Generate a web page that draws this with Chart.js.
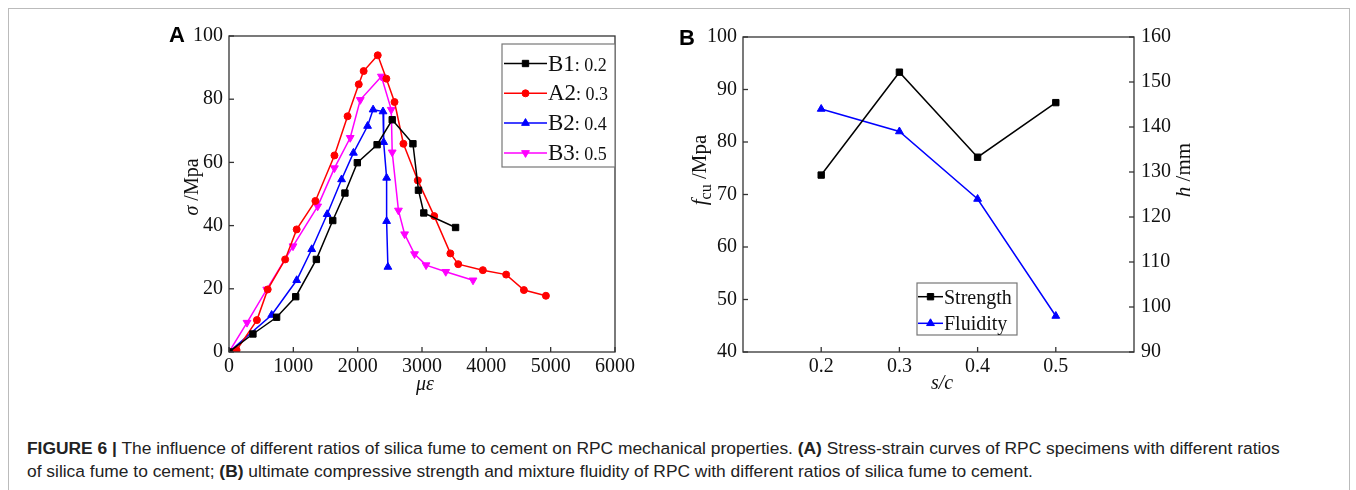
<!DOCTYPE html>
<html>
<head>
<meta charset="utf-8">
<script src="https://cdn.jsdelivr.net/npm/chart.js@4.4.0/dist/chart.umd.min.js"></script>
<style>
body { margin: 0; background: #fff; width: 1356px; height: 490px; overflow: hidden; position: relative; }
#frame { position: absolute; left: 8px; top: 8px; width: 1340px; height: 520px; border: 1px solid #bbb; }
#boxA { position: absolute; left: 160px; top: 20px; }
#boxB { position: absolute; left: 670px; top: 20px; }
#caption { position: absolute; left: 27px; top: 437px; font: 17.4px "Liberation Sans", Arial, sans-serif; line-height: 23px; color: #222; white-space: nowrap; }
#caption b { font-weight: bold; }
</style>
</head>
<body>
<div id="frame"></div>
<div id="boxA"><canvas id="chartA" width="480" height="380"></canvas></div>
<div id="boxB"><canvas id="chartB" width="550" height="380"></canvas></div>
<div id="caption"><b>FIGURE 6 |</b> The influence of different ratios of silica fume to cement on RPC mechanical properties. <b>(A)</b> Stress-strain curves of RPC specimens with different ratios<br>of silica fume to cement; <b>(B)</b> ultimate compressive strength and mixture fluidity of RPC with different ratios of silica fume to cement.</div>

<script>
// ---- panel A: stress-strain curves (strain in µε, stress in MPa)
const strainB1 = [0, 372, 740, 1037, 1358, 1613, 1802, 1995, 2302, 2537, 2859, 2945, 3028, 3522];
const stressB1 = [0, 5.7, 11.0, 17.5, 29.3, 41.6, 50.3, 59.9, 65.6, 73.5, 65.9, 51.2, 44.0, 39.4];
const strainA2 = [0, 118, 434, 602, 873, 1052, 1343, 1639, 1843, 2017, 2093, 2312, 2446, 2573, 2711, 2935, 3190, 3441, 3563, 3946, 4308, 4584, 4926];
const stressA2 = [0, 0.6, 10.1, 19.8, 29.3, 38.8, 47.8, 62.2, 74.6, 84.7, 88.9, 93.9, 86.5, 79.1, 65.9, 54.3, 43.0, 31.2, 27.8, 25.9, 24.5, 19.6, 17.8];
const strainB2 = [0, 663, 1052, 1286, 1526, 1750, 1934, 2154, 2240, 2394, 2404, 2450, 2450, 2470];
const stressB2 = [0, 11.7, 22.7, 32.5, 43.6, 54.6, 63.0, 71.5, 76.7, 76.1, 66.4, 55.1, 41.4, 26.9];
const strainB3 = [0, 280, 587, 995, 1378, 1639, 1884, 2041, 2369, 2522, 2537, 2634, 2730, 2884, 3063, 3369, 3793];
const stressB3 = [0, 9.3, 19.8, 33.5, 46.1, 58.2, 67.8, 79.8, 87.2, 76.7, 63.2, 44.8, 37.3, 31.0, 27.5, 25.4, 22.7];
const seriesNamesA = ["B1", "A2", "B2", "B3"];
const ratioLabelsA = [": 0.2", ": 0.3", ": 0.4", ": 0.5"];
const xTicksA = [0, 1000, 2000, 3000, 4000, 5000, 6000];
const yTicksA = [0, 20, 40, 60, 80, 100];

// ---- panel B: strength and fluidity vs s/c
const ratioB = [0.2, 0.3, 0.4, 0.5];
const strengthB = [73.7, 93.3, 77.1, 87.5];
const fluidityB = [144, 139, 124, 98];
const seriesNamesB = ["Strength", "Fluidity"];
const xTicksB = [0.2, 0.3, 0.4, 0.5];
const yTicksB = [40, 50, 60, 70, 80, 90, 100];
const y1TicksB = [90, 100, 110, 120, 130, 140, 150, 160];

const SERIF = '"Liberation Serif", "Times New Roman", serif';
const SANS = '"Liberation Sans", Arial, sans-serif';

Chart.defaults.font.family = SERIF;

function pairs(xs, ys) {
    return xs.map((x, i) => ({ x: x, y: ys[i] }));
}

function lineSet(label, data, color, style, radius, rot, axis) {
    return {
        label: label,
        data: data,
        showLine: true,
        borderColor: color,
        backgroundColor: color,
        borderWidth: 1.5,
        pointStyle: style,
        pointRadius: radius,
        pointRotation: rot,
        pointBorderWidth: 1,
        yAxisID: axis || "y"
    };
}

// text made of parts with different fonts, centred on x, baseline at y
function drawRich(ctx, parts, x, y, rot, align) {
    ctx.save();
    ctx.translate(x, y);
    ctx.rotate(rot || 0);
    let w = 0;
    parts.forEach(p => { ctx.font = p.font; w += ctx.measureText(p.t).width; });
    let cx = align === "left" ? 0 : -w / 2;
    ctx.textBaseline = "alphabetic";
    ctx.textAlign = "left";
    ctx.fillStyle = "#111";
    parts.forEach(p => {
        ctx.font = p.font;
        ctx.fillText(p.t, cx, p.dy || 0);
        cx += ctx.measureText(p.t).width;
    });
    ctx.restore();
}

function drawMarker(ctx, ds, x, y) {
    ctx.fillStyle = ds.backgroundColor;
    ctx.strokeStyle = ds.borderColor;
    ctx.lineWidth = 1;
    if (Chart.helpers && Chart.helpers.drawPoint) {
        Chart.helpers.drawPoint(ctx, { pointStyle: ds.pointStyle, radius: ds.pointRadius, rotation: ds.pointRotation, borderWidth: 1 }, x, y);
    } else {
        ctx.beginPath();
        ctx.arc(x, y, ds.pointRadius, 0, Math.PI * 2);
        ctx.fill();
    }
}

/* frame, inward ticks, axis titles, legend */
const deco = {
    id: "deco",
    afterDraw(chart, args, o) {
        const ctx = chart.ctx;
        const a = chart.chartArea;
        ctx.save();
        ctx.strokeStyle = "#333";
        ctx.lineWidth = 1.3;
        ctx.strokeRect(a.left, a.top, a.right - a.left, a.bottom - a.top);

        Object.values(chart.scales).forEach(s => {
            s.ticks.forEach(t => {
                const p = s.getPixelForValue(t.value);
                ctx.beginPath();
                if (s.axis === "x") {
                    ctx.moveTo(p, a.bottom); ctx.lineTo(p, a.bottom - 5);
                } else if (s.position === "left") {
                    ctx.moveTo(a.left, p); ctx.lineTo(a.left + 5, p);
                } else {
                    ctx.moveTo(a.right, p); ctx.lineTo(a.right - 5, p);
                }
                ctx.stroke();
            });
        });

        // panel letter
        ctx.fillStyle = "#000";
        ctx.font = "bold 22px " + SANS;
        ctx.textAlign = "left";
        ctx.textBaseline = "alphabetic";
        ctx.fillText(o.panel.t, o.panel.x, o.panel.y);

        o.titles.forEach(tt => drawRich(ctx, tt.parts, tt.x, tt.y, tt.rot));

        // legend
        const L = o.legend;
        ctx.fillStyle = "#fff";
        ctx.fillRect(L.x, L.y, L.w, L.h);
        ctx.strokeStyle = "#777";
        ctx.lineWidth = 1.2;
        ctx.strokeRect(L.x, L.y, L.w, L.h);
        L.rows.forEach((r, i) => {
            const ds = chart.data.datasets[i];
            ctx.strokeStyle = ds.borderColor;
            ctx.lineWidth = 1.5;
            ctx.beginPath();
            ctx.moveTo(L.x0, r.y); ctx.lineTo(L.x1, r.y);
            ctx.stroke();
            drawMarker(ctx, ds, (L.x0 + L.x1) / 2, r.y);
            drawRich(ctx, r.parts, L.x1 + 1, r.y + 7, 0, "left");
        });
        ctx.restore();
    }
};

function tickFont() {
    return { family: SERIF, size: 20, lineHeight: 1 };
}

const noGrid = { display: false, drawTicks: false };

// ---------------- panel A ----------------
const dsA = [
    lineSet("B1", pairs(strainB1, stressB1), "#000000", "rect", 4.5, 0),
    lineSet("A2", pairs(strainA2, stressA2), "#ff0000", "circle", 3.5, 0),
    lineSet("B2", pairs(strainB2, stressB2), "#0000ff", "triangle", 4.5, 0),
    lineSet("B3", pairs(strainB3, stressB3), "#ff00ff", "triangle", 4.5, 180)
];

new Chart(document.getElementById("chartA"), {
    type: "scatter",
    data: { datasets: dsA },
    options: {
        responsive: false,
        animation: false,
        layout: { padding: { top: 15, right: 22, left: 0, bottom: 0 } },
        plugins: {
            legend: { display: false },
            tooltip: { enabled: false },
            deco: {
                panel: { t: "A", x: 9, y: 22 },
                titles: [
                    { parts: [{ t: "σ", font: "italic 20px " + SERIF }, { t: " /Mpa", font: "20px " + SERIF }], x: 38, y: 167, rot: -Math.PI / 2 },
                    { parts: [{ t: "με", font: "italic 20px " + SERIF }], x: 265, y: 370, rot: 0 }
                ],
                legend: {
                    x: 342, y: 24, w: 113, h: 123, x0: 344, x1: 387,
                    rows: seriesNamesA.map((n, i) => ({
                        y: 43.5 + i * 29.8,
                        parts: [{ t: n, font: "23px " + SERIF }, { t: ratioLabelsA[i], font: "18px " + SERIF }]
                    }))
                }
            }
        },
        scales: {
            x: {
                type: "linear", min: 0, max: 6000,
                afterBuildTicks: s => { s.ticks = xTicksA.map(v => ({ value: v })); },
                afterFit: s => { s.height = 48; },
                grid: noGrid, border: { display: false },
                ticks: { font: tickFont(), color: "#111", padding: 5, maxRotation: 0, autoSkip: false, callback: v => String(v) }
            },
            y: {
                type: "linear", min: 0, max: 100,
                afterBuildTicks: s => { s.ticks = yTicksA.map(v => ({ value: v })); },
                afterFit: s => { s.width = 69; },
                grid: noGrid, border: { display: false },
                ticks: { font: tickFont(), color: "#111", padding: 6, autoSkip: false, callback: v => String(v) }
            }
        }
    },
    plugins: [deco]
});

// ---------------- panel B ----------------
const dsB = [
    lineSet("Strength", pairs(ratioB, strengthB), "#000000", "rect", 4.5, 0, "y"),
    lineSet("Fluidity", pairs(ratioB, fluidityB), "#0000ff", "triangle", 4.5, 0, "y1")
];

new Chart(document.getElementById("chartB"), {
    type: "scatter",
    data: { datasets: dsB },
    options: {
        responsive: false,
        animation: false,
        layout: { padding: { top: 16, right: 0, left: 0, bottom: 0 } },
        plugins: {
            legend: { display: false },
            tooltip: { enabled: false },
            deco: {
                panel: { t: "B", x: 9, y: 25 },
                titles: [
                    { parts: [{ t: "f", font: "italic 21px " + SERIF }, { t: "cu", font: "16px " + SERIF, dy: 5 }, { t: " /Mpa", font: "21px " + SERIF }], x: 36, y: 150, rot: -Math.PI / 2 },
                    { parts: [{ t: "h", font: "italic 21px " + SERIF }, { t: " /mm", font: "21px " + SERIF }], x: 520, y: 150, rot: -Math.PI / 2 },
                    { parts: [{ t: "s/c", font: "italic 20px " + SERIF }], x: 272, y: 369, rot: 0 }
                ],
                legend: {
                    x: 247, y: 263, w: 100, h: 52, x0: 248, x1: 273,
                    rows: seriesNamesB.map((n, i) => ({
                        y: 276.7 + i * 26.6,
                        parts: [{ t: n, font: "20px " + SERIF }]
                    }))
                }
            }
        },
        scales: {
            x: {
                type: "linear", min: 0.1, max: 0.6,
                afterBuildTicks: s => { s.ticks = xTicksB.map(v => ({ value: v })); },
                afterFit: s => { s.height = 48; },
                grid: noGrid, border: { display: false },
                ticks: { font: tickFont(), color: "#111", padding: 5, maxRotation: 0, autoSkip: false, callback: v => v.toFixed(1) }
            },
            y: {
                type: "linear", position: "left", min: 40, max: 100,
                afterBuildTicks: s => { s.ticks = yTicksB.map(v => ({ value: v })); },
                afterFit: s => { s.width = 73; },
                grid: noGrid, border: { display: false },
                ticks: { font: tickFont(), color: "#111", padding: 6, autoSkip: false, callback: v => String(v) }
            },
            y1: {
                type: "linear", position: "right", min: 90, max: 160,
                afterBuildTicks: s => { s.ticks = y1TicksB.map(v => ({ value: v })); },
                afterFit: s => { s.width = 86; },
                grid: noGrid, border: { display: false },
                ticks: { font: tickFont(), color: "#111", padding: 7, autoSkip: false, callback: v => String(v) }
            }
        }
    },
    plugins: [deco]
});
</script>
</body>
</html>
